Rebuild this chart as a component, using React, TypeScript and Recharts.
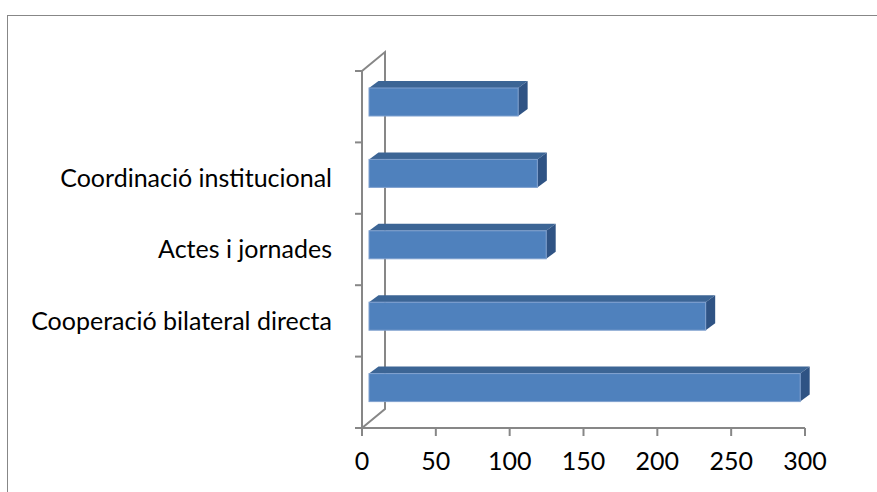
import React from "react";
import { BarChart, Bar, XAxis, YAxis } from "recharts";

const categories = [
  "",
  "Coordinació institucional",
  "Actes i jornades",
  "Cooperació bilateral directa",
  "",
];
const values = [101, 114, 120, 228, 292];
const xTicks = [0, 50, 100, 150, 200, 250, 300];

const data = categories.map((name, i) => ({ name, value: values[i] }));

const W = 877;
const H = 492;
const PLOT_LEFT = 362;
const PLOT_TOP = 71;
const PLOT_BOTTOM = 428;
const PLOT_RIGHT = 805;
const BAND = (PLOT_BOTTOM - PLOT_TOP) / categories.length;

// 3d offsets
const WALL_DX = 23;
const WALL_DY = 19;
const FRONT_DX = 7;
const FRONT_DY = -5;
const DEPTH_X = 9.5;
const DEPTH_Y = 7;

const AXIS = "#878787";
const FONT = "Lato, 'Open Sans', sans-serif";

function Bar3D(props: any) {
  const { x, y, width, height } = props;
  if (!width || width <= 0) return null;
  const fx = x + FRONT_DX;
  const fy = y + FRONT_DY;
  const top = `${fx},${fy} ${fx + DEPTH_X},${fy - DEPTH_Y} ${fx + width + DEPTH_X},${fy - DEPTH_Y} ${fx + width},${fy}`;
  const side = `${fx + width},${fy} ${fx + width + DEPTH_X},${fy - DEPTH_Y} ${fx + width + DEPTH_X},${fy + height - DEPTH_Y} ${fx + width},${fy + height}`;
  return (
    <g>
      <polygon points={top} fill="#3C6595" />
      <polygon points={side} fill="#2F5384" />
      <rect x={fx} y={fy} width={width} height={height} fill="#4F81BD" stroke="#7fa0cf" strokeWidth={1} />
    </g>
  );
}

function CategoryTick(props: any) {
  const { x, y, payload, index } = props;
  const axisX = PLOT_LEFT;
  const last = index === categories.length - 1;
  return (
    <g>
      <line x1={axisX - 7} x2={axisX} y1={y - BAND / 2} y2={y - BAND / 2} stroke={AXIS} strokeWidth={2} />
      {last && (
        <line x1={axisX - 7} x2={axisX} y1={y + BAND / 2} y2={y + BAND / 2} stroke={AXIS} strokeWidth={2} />
      )}
      <text x={x} y={y} dy="0.35em" textAnchor="end" fill="#000" fontSize={25} fontFamily={FONT}>
        {payload.value}
      </text>
    </g>
  );
}

export default function App() {
  return (
    <div style={{ position: "relative", width: W, height: H, overflow: "hidden", fontFamily: FONT, background: "#fff" }}>
      <style>{"body{margin:0}"}</style>
      <div
        style={{
          position: "absolute",
          left: 7,
          top: 15,
          width: W + 20,
          height: H + 20,
          borderLeft: `1.5px solid ${AXIS}`,
          borderTop: `1.5px solid ${AXIS}`,
        }}
      />
      <svg width={W} height={H} style={{ position: "absolute", left: 0, top: 0 }}>
        <polyline
          points={`${PLOT_LEFT},${PLOT_TOP} ${PLOT_LEFT + WALL_DX},${PLOT_TOP - WALL_DY} ${PLOT_LEFT + WALL_DX},${PLOT_BOTTOM - WALL_DY} ${PLOT_LEFT},${PLOT_BOTTOM}`}
          fill="none"
          stroke={AXIS}
          strokeWidth={2}
        />
      </svg>
      <div style={{ position: "absolute", left: 0, top: 0 }}>
        <BarChart
          width={W}
          height={H}
          data={data}
          layout="vertical"
          margin={{ top: PLOT_TOP, right: W - PLOT_RIGHT, bottom: 24, left: 0 }}
          barCategoryGap={0}
        >
          <XAxis
            type="number"
            domain={[0, 300]}
            ticks={xTicks}
            interval={0}
            height={H - PLOT_BOTTOM - 24}
            axisLine={{ stroke: AXIS, strokeWidth: 2 }}
            tickLine={{ stroke: AXIS, strokeWidth: 2 }}
            tickSize={8}
            tickMargin={16}
            tick={{ fill: "#000", fontSize: 25, fontFamily: FONT }}
          />
          <YAxis
            type="category"
            dataKey="name"
            width={PLOT_LEFT}
            interval={0}
            axisLine={{ stroke: AXIS, strokeWidth: 2 }}
            tickLine={false}
            tickSize={7}
            tickMargin={23}
            tick={<CategoryTick />}
          />
          <Bar dataKey="value" barSize={28} shape={<Bar3D />} isAnimationActive={false} />
        </BarChart>
      </div>
    </div>
  );
}
